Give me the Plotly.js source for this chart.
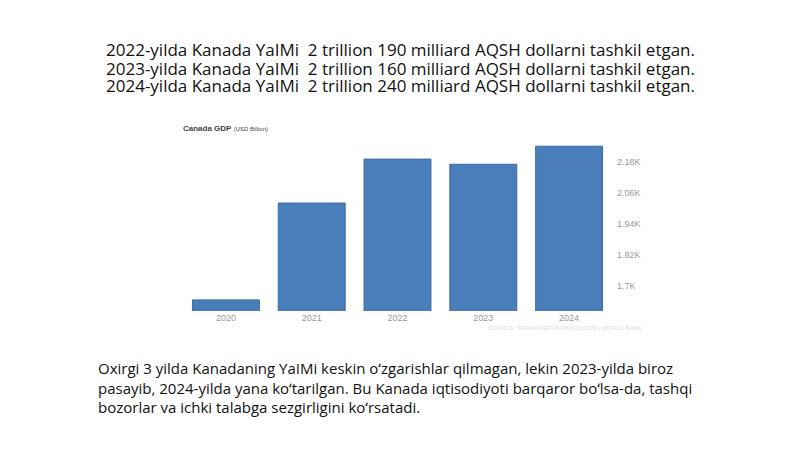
<!DOCTYPE html>
<html>
<head>
<meta charset="utf-8">
<script src="https://cdn.plot.ly/plotly-3.0.1.min.js"></script>
<style>html,body{margin:0;padding:0;background:#fff;}#chart{width:800px;height:449px;}</style>
</head>
<body>
<div id="chart"></div>
<script>
const years = ["2020", "2021", "2022", "2023", "2024"];
const gdpBillion = [1645, 2020, 2190, 2170, 2240];
const yTickVals = [1700, 1820, 1940, 2060, 2180];
const yTickText = ["1.7K", "1.82K", "1.94K", "2.06K", "2.18K"];
const headerLines = [
  "2022-yilda Kanada YaIMi&nbsp; 2 trillion 190 milliard AQSH dollarni tashkil etgan.",
  "2023-yilda Kanada YaIMi&nbsp; 2 trillion 160 milliard AQSH dollarni tashkil etgan.",
  "2024-yilda Kanada YaIMi&nbsp; 2 trillion 240 milliard AQSH dollarni tashkil etgan."
];
const footerLines = [
  "Oxirgi 3 yilda Kanadaning YaIMi keskin oʻzgarishlar qilmagan, lekin 2023-yilda biroz",
  "pasayib, 2024-yilda yana koʻtarilgan. Bu Kanada iqtisodiyoti barqaror boʻlsa-da, tashqi",
  "bozorlar va ichki talabga sezgirligini koʻrsatadi."
];

// plot area in pixels
const L = 182.5, R = 612.5, T = 140, B = 311;
const W = 800, H = 449;
const px = x => (x - L) / (R - L);
const py = y => (B - y) / (B - T);

const annotations = [];
const headerY = [50, 68, 86];
headerLines.forEach((t, i) => annotations.push({
  text: t, xref: 'paper', yref: 'paper', x: px(401), y: py(headerY[i]),
  xanchor: 'center', yanchor: 'middle', showarrow: false,
  font: {family: 'Open Sans, Noto Sans, sans-serif', size: 17, color: '#111'}
}));
const footerY = [368, 387.5, 407];
footerLines.forEach((t, i) => annotations.push({
  text: t, xref: 'paper', yref: 'paper', x: px(95), y: py(footerY[i]),
  xanchor: 'left', yanchor: 'middle', showarrow: false, align: 'left',
  font: {family: 'Open Sans, Noto Sans, sans-serif', size: 15, color: '#111'}
}));
annotations.push({
  text: '<b>Canada GDP</b> <span style="font-size:6px">(USD Billion)</span>',
  xref: 'paper', yref: 'paper', x: px(180), y: py(128),
  xanchor: 'left', yanchor: 'middle', showarrow: false,
  font: {family: 'Liberation Sans, Arial, sans-serif', size: 8, color: '#444'}
});
annotations.push({
  text: 'SOURCE: TRADINGECONOMICS.COM | WORLD BANK',
  xref: 'paper', yref: 'paper', x: px(645), y: py(328),
  xanchor: 'right', yanchor: 'middle', showarrow: false,
  font: {family: 'Liberation Sans, Arial, sans-serif', size: 6, color: '#d8d8e4'}
});

const trace = {
  type: 'bar', x: years, y: gdpBillion,
  marker: {color: '#4a7ebb', line: {color: '#3d6aa3', width: 1}},
  hoverinfo: 'skip'
};

const layout = {
  width: W, height: H,
  margin: {l: L, r: W - R, t: T, b: H - B, pad: 0},
  paper_bgcolor: '#fff', plot_bgcolor: '#fff',
  showlegend: false,
  bargap: 0.22,
  xaxis: {
    type: 'category', showgrid: false, zeroline: false, showline: false,
    ticks: '', tickfont: {family: 'Liberation Sans, Arial, sans-serif', size: 9, color: '#999'}
  },
  yaxis: {
    side: 'right', range: [1602, 2264], showgrid: false, zeroline: false, showline: false,
    tickvals: yTickVals, ticktext: yTickText, ticks: '', ticklabelstandoff: 4,
    tickfont: {family: 'Liberation Sans, Arial, sans-serif', size: 9, color: '#999'}
  },
  annotations: annotations
};

Plotly.newPlot('chart', [trace], layout, {staticPlot: true, displayModeBar: false});
</script>
</body>
</html>
